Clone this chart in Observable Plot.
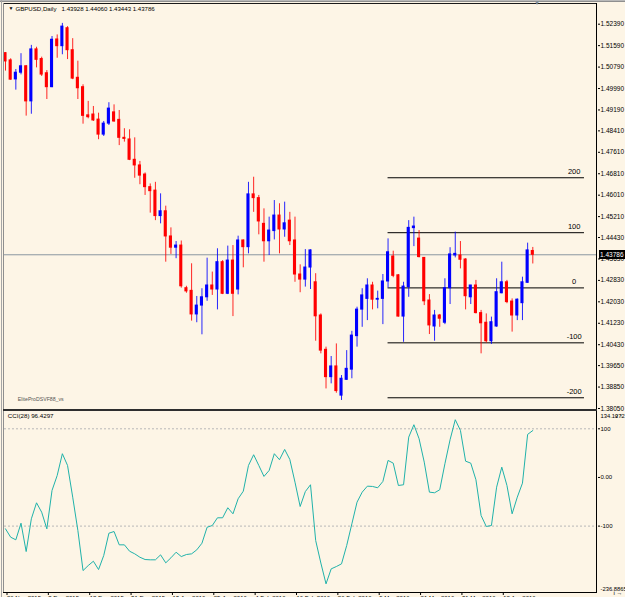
<!DOCTYPE html>
<html><head><meta charset="utf-8">
<script src="https://cdn.jsdelivr.net/npm/d3@7"></script>
<script src="https://cdn.jsdelivr.net/npm/@observablehq/plot@0.6"></script>
<style>
html,body{margin:0;padding:0;background:#fdf5e6;}
#wrap{position:relative;width:625px;height:597px;background:#fdf5e6;overflow:hidden;font-family:"Liberation Sans",Arial,sans-serif;}
#wrap svg{position:absolute;left:0;overflow:visible;}
.ln{position:absolute;}
</style></head><body><div id="wrap"></div>
<script>
// ---- price data (daily bars, left to right) ----
const opens  = [1.5131,1.5104,1.5033,1.5058,1.5082,1.4951,1.5145,1.5109,1.5056,1.5004,
1.5182,1.5157,1.5224,1.5142,1.5039,1.5004,1.4899,1.4902,1.4883,1.4827,
1.4868,1.4910,1.4882,1.4815,1.4809,1.4733,1.4712,1.4678,1.4631,1.4618,
1.4523,1.4541,1.4447,1.4405,1.4413,1.4254,1.4244,1.4156,1.4189,1.4220,
1.4264,1.4249,1.4351,1.4233,1.4357,1.4249,1.4432,1.4407,1.4604,1.4590,
1.4494,1.4429,1.4467,1.4525,1.4473,1.4506,1.4432,1.4305,1.4286,1.4331,
1.4276,1.4152,1.4024,1.3922,1.3962,1.3853,1.3912,1.3950,1.4075,1.4174,
1.4214,1.4264,1.4211,1.4214,1.4279,1.4372,1.4302,1.4148,1.4258,1.4478,
1.4439,1.4367,1.4208,1.4111,1.4152,1.4125,1.4254,1.4376,1.4376,1.4361,
1.4220,1.4264,1.4161,1.4125,1.4056,1.4111,1.4235,1.4276,1.4204,1.4152,
1.4198,1.4274,1.43928];
const highs  = [1.5133,1.5110,1.5070,1.5129,1.5085,1.5160,1.5153,1.5116,1.5066,1.5193,
1.5199,1.5242,1.5230,1.5185,1.5101,1.5013,1.4951,1.4932,1.4907,1.4876,
1.4946,1.4938,1.4917,1.4849,1.4845,1.4815,1.4727,1.4684,1.4643,1.4649,
1.4606,1.4560,1.4479,1.4428,1.4430,1.4261,1.4345,1.4223,1.4252,1.4366,
1.4314,1.4401,1.4357,1.4411,1.4413,1.4448,1.4434,1.4649,1.4668,1.4600,
1.4550,1.4519,1.4581,1.4569,1.4575,1.4537,1.4519,1.4341,1.4398,1.4397,
1.4308,1.4158,1.4034,1.3999,1.4046,1.3928,1.4021,1.4093,1.4183,1.4252,
1.4289,1.4276,1.4243,1.4305,1.4438,1.4392,1.4305,1.4276,1.4506,1.4519,
1.4469,1.4367,1.4230,1.4171,1.4156,1.4289,1.4405,1.4463,1.4428,1.4364,
1.4264,1.4283,1.4171,1.4158,1.4146,1.4289,1.4351,1.4283,1.4214,1.4214,
1.4295,1.4422,1.44060];
const lows   = [1.5064,1.5030,1.4993,1.5050,1.4896,1.4903,1.5076,1.5044,1.4958,1.5002,
1.5112,1.5125,1.5107,1.5032,1.4958,1.4866,1.4886,1.4876,1.4808,1.4820,
1.4861,1.4873,1.4786,1.4799,1.4730,1.4664,1.4640,1.4600,1.4534,1.4506,
1.4494,1.4351,1.4380,1.4364,1.4254,1.4235,1.4131,1.4125,1.4080,1.4205,
1.4227,1.4173,1.4230,1.4230,1.4148,1.4229,1.4330,1.4382,1.4537,1.4453,
1.4351,1.4376,1.4434,1.4382,1.4444,1.4413,1.4276,1.4237,1.4258,1.4249,
1.4056,1.4009,1.3878,1.3897,1.3862,1.3835,1.3910,1.3916,1.4034,1.4108,
1.4133,1.4173,1.4177,1.4118,1.4255,1.4293,1.4146,1.4052,1.4220,1.4409,
1.4367,1.4189,1.4081,1.4056,1.4108,1.4118,1.4193,1.4367,1.4326,1.4173,
1.4193,1.4158,1.4009,1.4049,1.4044,1.4108,1.4233,1.4196,1.4090,1.4133,
1.4133,1.4272,1.43443];
const closes = [1.5100,1.5032,1.5058,1.5082,1.4951,1.5145,1.5106,1.5051,1.5004,1.5181,
1.5157,1.5230,1.5142,1.5036,1.5000,1.4897,1.4892,1.4880,1.4827,1.4868,
1.4924,1.4876,1.4815,1.4811,1.4733,1.4712,1.4674,1.4631,1.4616,1.4523,
1.4541,1.4447,1.4405,1.4413,1.4261,1.4242,1.4156,1.4189,1.4220,1.4264,
1.4249,1.4351,1.4233,1.4357,1.4233,1.4432,1.4407,1.4604,1.4590,1.4503,
1.4429,1.4469,1.4525,1.4473,1.4496,1.4429,1.4305,1.4286,1.4331,1.4395,
1.4149,1.4021,1.3922,1.3962,1.3870,1.3916,1.3953,1.4077,1.4174,1.4227,
1.4264,1.4211,1.4214,1.4279,1.4388,1.4300,1.4148,1.4260,1.4479,1.4484,
1.4370,1.4205,1.4115,1.4152,1.4140,1.4254,1.4380,1.4382,1.4360,1.4224,
1.4264,1.4161,1.4123,1.4056,1.4127,1.4239,1.4276,1.4202,1.4152,1.4211,
1.4276,1.4395,1.43786];

// ---- CCI(28) values, one per bar ----
const cciValues = [-105.6,-122.8,-128.2,-94.0,-152.3,-85.0,-52.1,-71.4,-105.6,-26.7,
4.1,48.8,24.7,-40.5,-109.1,-191.4,-181.1,-172.2,-189.3,-160.5,
-114.6,-111.1,-138.5,-138.5,-151.6,-157.0,-164.0,-168.7,-169.3,-169.3,
-159.1,-175.5,-165.2,-153.7,-162.6,-158.4,-157.0,-148.8,-135.2,-102.3,
-98.8,-82.9,-82.9,-62.3,-74.7,-43.8,-28.2,24.7,46.7,24.7,
2.1,14.4,48.8,36.4,57.6,37.0,-9.7,-59.7,-29.0,-15.0,
-129.6,-175.9,-218.7,-187.9,-183.1,-177.6,-139.9,-95.3,-50.8,-30.2,
-17.9,-18.5,-21.2,-8.2,35.0,29.4,-16.5,-15.0,82.9,108.4,
79.6,31.5,-30.2,-31.5,-25.3,28.2,77.6,118.7,96.7,33.5,
29.4,-4.7,-78.2,-100.8,-98.8,-20.0,21.2,-16.5,-74.7,-40.5,
-11.7,88.5,96.4297];

// ---- axes / labels ----
const priceTicks = [1.52390,1.51590,1.50790,1.49990,1.49190,1.48410,1.47610,1.46810,1.46010,1.45210,
1.44430,1.43630,1.42830,1.42030,1.41230,1.40430,1.39650,1.38850,1.38050];
const priceMin = 1.38050, priceMax = 1.52390;
const cciMin = -236.8865, cciMax = 134.1372;
const cciTicks = [100, 0, -100];
const cciTickLabels = ["100", "0.00", "-100"];
const dateTickBars = [0,8,16,24,32,40,48,56,64,72,80,88,96];
const dateLabels = ["26 Nov 2015","8 Dec 2015","18 Dec 2015","31 Dec 2015","13 Jan 2016","25 Jan 2016",
"4 Feb 2016","16 Feb 2016","26 Feb 2016","9 Mar 2016","21 Mar 2016","31 Mar 2016","12 Apr 2016"];
const levelPrices = [1.4666, 1.4461, 1.4255, 1.4050, 1.3845];
const levelNames = ["200", "100", "0", "-100", "-200"];
const levelStartBar = 74, levelEndBar = 112, levelLabelBar = 110;
const titleText = "GBPUSD,Daily\u00a0\u00a0\u00a01.43928 1.44060 1.43443 1.43786";
const cciTitle = "CCI(28) 96.4297";
const footText = "EliteProDSVF88_vs";

const bars = opens.map((o, i) => ({i, open: o, high: highs[i], low: lows[i], close: closes[i],
  col: closes[i] >= o ? "#0000ff" : "#ff0000"}));
const lastClose = closes[closes.length - 1];
const levels = levelPrices.map((p, k) => ({price: p, label: levelNames[k]}));
const cciData = cciValues.map((v, i) => ({i, v}));
const FONT = "'Liberation Sans', Arial, sans-serif";
const X = {domain: [0, 102], range: [5, 532.3], axis: null};

const main = Plot.plot({
  width: 625, height: 410, marginLeft: 4, marginRight: 28, marginTop: 3, marginBottom: 0,
  x: X,
  y: {domain: [priceMin, priceMax], range: [408, 23.7], axis: null},
  color: {type: "identity"},
  style: {background: "transparent", fontFamily: FONT, fontSize: "6.5px", color: "#000", overflow: "visible"},
  marks: [
    Plot.ruleY([lastClose], {stroke: "#8a97a2", strokeWidth: 1}),
    Plot.ruleY(levels, {y: "price", x1: levelStartBar, x2: levelEndBar, stroke: "#000", strokeWidth: 1}),
    Plot.text(levels, {y: "price", x: levelLabelBar, text: "label", textAnchor: "middle", dy: -6.5, fontSize: 7.5, fill: "#000"}),
    Plot.ruleX(bars, {x: "i", y1: "low", y2: "high", stroke: "col", strokeWidth: 1, strokeOpacity: 0.85}),
    Plot.rect(bars, {x1: d => d.i - 0.3, x2: d => d.i + 0.3, y1: "open", y2: "close", fill: "col", insetTop: -0.5, insetBottom: -0.5}),
    Plot.axisY(priceTicks, {anchor: "right", tickSize: 2, tickPadding: 1, tickFormat: d => d.toFixed(5), fontSize: 6.5}),
    Plot.text(["\u25BC"], {frameAnchor: "top-left", dx: 4, dy: 5, lineAnchor: "middle", fontSize: 5, fill: "#000"}),
    Plot.text([titleText], {frameAnchor: "top-left", dx: 11, dy: 5.2, lineAnchor: "middle", fontSize: 6.1, fill: "#000"}),
    Plot.text([footText], {frameAnchor: "bottom-left", dx: 13.3, dy: -10.7, lineAnchor: "middle", fontSize: 5.2, fill: "#555"})
  ]
});
main.style.top = "0px";

const cci = Plot.plot({
  width: 625, height: 187, marginLeft: 4, marginRight: 28, marginTop: 1, marginBottom: 5,
  x: X,
  y: {domain: [cciMin, cciMax], range: [182.2, 1.7], axis: null},
  style: {background: "transparent", fontFamily: FONT, fontSize: "6px", color: "#000", overflow: "visible"},
  marks: [
    Plot.ruleY([100, -100], {stroke: "#b8b8b8", strokeDasharray: "2,2"}),
    Plot.line(cciData, {x: "i", y: "v", stroke: "#20b2aa", strokeWidth: 1}),
    Plot.axisY(cciTicks, {anchor: "right", tickSize: 2, tickPadding: 1, tickFormat: d => cciTickLabels[cciTicks.indexOf(d)], fontSize: 6}),
    Plot.text([cciMax], {y: d => d, frameAnchor: "right", dx: 3, dy: 3.5, textAnchor: "start", lineAnchor: "middle", text: d => d.toFixed(4), fontSize: 5.8, fill: "#000"}),
    Plot.text([cciMin], {y: d => d, frameAnchor: "right", dx: 3, dy: -3.8, textAnchor: "start", lineAnchor: "middle", text: d => d.toFixed(4), fontSize: 5.8, fill: "#000"}),
    Plot.axisX(dateTickBars, {anchor: "bottom", tickSize: 3, tickPadding: 0, textAnchor: "start", dx: 1.5,
      tickFormat: d => dateLabels[dateTickBars.indexOf(d)], fontSize: 6}),
    Plot.text([cciTitle], {frameAnchor: "top-left", dx: 3.3, dy: 5, lineAnchor: "middle", fontSize: 6.2, fill: "#000"})
  ]
});
cci.style.top = "410px";

const wrap = document.getElementById("wrap");
wrap.appendChild(main);
wrap.appendChild(cci);
function line(l, t, w, h, c) {
  const d = document.createElement("div");
  d.className = "ln";
  Object.assign(d.style, {left: l + "px", top: t + "px", width: w + "px", height: h + "px", background: c});
  wrap.appendChild(d);
}
line(0, 0, 625, 1, "#b9b9b9");
line(0, 1, 625, 1, "#8f8f8f");
line(3, 3, 594, 1, "#1a1a1a");
line(1, 0, 1, 597, "#a6a6a6");
line(3, 3, 1, 590, "#8f8f8f");
line(596, 3, 1, 590, "#000");
line(3, 409, 594, 2, "#2e2e2e");
line(3, 592, 594, 1, "#000");

// current-price label box, positioned with the plot's own y scale
const yNow = main.scale("y").apply(lastClose);
const box = document.createElement("div");
Object.assign(box.style, {position: "absolute", left: "599px", top: (yNow - 4.5) + "px", width: "26px", height: "9px",
  background: "#000", color: "#fff", fontSize: "6.5px", lineHeight: "9px", fontFamily: FONT, paddingLeft: "1px", boxSizing: "border-box", whiteSpace: "nowrap"});
box.textContent = lastClose.toFixed(5);
wrap.appendChild(box);

const tri = document.createElement("div");
Object.assign(tri.style, {position: "absolute", left: "534px", top: "0px", fontSize: "6px", color: "#7d8d9c", lineHeight: "7px"});
tri.textContent = "\u25BC";
wrap.appendChild(tri);
</script></body></html>
